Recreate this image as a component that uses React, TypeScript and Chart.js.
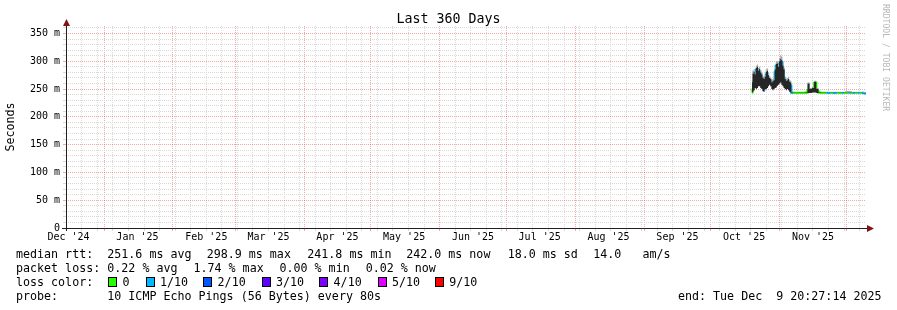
import React, { useEffect, useRef } from 'react';
import { Chart, registerables } from 'chart.js';

Chart.register(...registerables);

// ---------- text ----------
const chartTitle = 'Last 360 Days';
const yAxisTitle = 'Seconds';
const watermark = 'RRDTOOL / TOBI OETIKER';

// ---------- time axis ----------
const startTime = '2024-12-14T20:27:14';
const endTime = '2025-12-09T20:27:14';
const monthStarts = [
  '2024-12-01T00:00', '2025-01-01T00:00', '2025-02-01T00:00', '2025-03-01T00:00',
  '2025-04-01T00:00', '2025-05-01T00:00', '2025-06-01T00:00', '2025-07-01T00:00',
  '2025-08-01T00:00', '2025-09-01T00:00', '2025-10-01T00:00', '2025-11-01T00:00',
  '2025-12-01T00:00',
];
const monthLabels = [
  "Dec '24", "Jan '25", "Feb '25", "Mar '25", "Apr '25", "May '25", "Jun '25",
  "Jul '25", "Aug '25", "Sep '25", "Oct '25", "Nov '25", "Dec '25",
];

// ---------- value axis (ms) ----------
const yMax = 363.5;
const yMajorTicks = [0, 50, 100, 150, 200, 250, 300, 350];
const yTickLabels = ['0', '50 m', '100 m', '150 m', '200 m', '250 m', '300 m', '350 m'];

// ---------- data ----------
const sampleTimes = [
  '2025-10-19T12:00', '2025-10-20T00:00', '2025-10-20T12:00', '2025-10-21T00:00',
  '2025-10-21T12:00', '2025-10-22T00:00', '2025-10-22T12:00', '2025-10-23T00:00',
  '2025-10-23T12:00', '2025-10-24T00:00', '2025-10-24T12:00', '2025-10-25T00:00',
  '2025-10-25T12:00', '2025-10-26T00:00', '2025-10-26T12:00', '2025-10-27T00:00',
  '2025-10-27T12:00', '2025-10-28T00:00', '2025-10-28T12:00', '2025-10-29T00:00',
  '2025-10-29T12:00', '2025-10-30T00:00', '2025-10-30T12:00', '2025-10-31T00:00',
  '2025-10-31T12:00', '2025-11-01T00:00', '2025-11-01T12:00', '2025-11-02T00:00',
  '2025-11-02T12:00', '2025-11-03T00:00', '2025-11-03T12:00', '2025-11-04T00:00',
  '2025-11-04T12:00', '2025-11-05T00:00', '2025-11-05T12:00', '2025-11-06T00:00',
  '2025-11-06T12:00', '2025-11-07T00:00', '2025-11-08T00:00', '2025-11-09T00:00',
  '2025-11-10T00:00', '2025-11-11T00:00', '2025-11-12T00:00', '2025-11-13T00:00',
  '2025-11-14T00:00', '2025-11-15T00:00', '2025-11-16T00:00', '2025-11-17T00:00',
  '2025-11-18T00:00', '2025-11-19T00:00', '2025-11-20T00:00', '2025-11-21T00:00',
  '2025-11-22T00:00', '2025-11-23T00:00', '2025-11-24T00:00', '2025-11-25T00:00',
  '2025-11-26T00:00', '2025-11-27T00:00', '2025-11-28T00:00', '2025-11-29T00:00',
  '2025-11-30T00:00', '2025-12-01T00:00', '2025-12-02T00:00', '2025-12-03T00:00',
  '2025-12-04T00:00', '2025-12-05T00:00', '2025-12-06T00:00', '2025-12-07T00:00',
  '2025-12-08T00:00', '2025-12-09T00:00', '2025-12-09T20:00',
];
const rttLow = [
  243, 245, 248, 252, 250, 252, 255, 255, 252, 250, 246, 245,
  250, 250, 252, 255, 258, 255, 250, 248, 250, 252, 253, 256,
  258, 260, 262, 258, 255, 252, 250, 248, 250, 248, 245, 244,
  243, 242.8, 242.8, 243, 242.8, 242.8, 243, 243, 243, 243, 244, 244,
  243, 243, 242.8, 242.8, 242.8, 242.8, 242.8, 242.8, 242.8, 242.8, 242.8, 242.8,
  242.8, 242.8, 242.8, 242.8, 242.8, 242.8, 242.8, 242.8, 242.8, 242.3, 241.8,
];
const rttHigh = [
  262, 278, 281, 276, 288, 290, 283, 286, 280, 276, 270, 268,
  272, 281, 283, 275, 270, 268, 262, 264, 266, 285, 295, 296,
  290, 300, 304, 302, 292, 285, 268, 265, 266, 268, 263, 262,
  244, 243.3, 243.3, 243.4, 243.3, 243.3, 243.5, 244, 260, 250, 252, 263,
  250, 244, 243.3, 243.3, 243.3, 243.3, 243.3, 243.3, 243.3, 243.3, 243.3, 243.3,
  243.3, 243.3, 243.3, 243.3, 243.3, 243.3, 243.3, 243.3, 243.3, 242.8, 242.3,
];
const rttPeak = [
  266, 283, 285, 280, 292, 294, 287, 290, 284, 279, 273, 272,
  276, 285, 287, 279, 273, 271, 266, 268, 270, 289, 299, 300,
  294, 306, 311, 308, 297, 289, 272, 269, 270, 272, 267, 265,
  246, 244, 244, 244, 244, 244, 244.5, 245, 262, 252, 254, 265,
  252, 245, 244, 244, 244, 244, 244, 244, 244, 244, 244, 244,
  244, 246, 246.5, 246, 244, 244, 244, 244, 244, 243.5, 243,
];
const rttMedian = [
  244, 249, 262, 270, 284, 286, 280, 281, 276, 270, 255, 250,
  262, 276, 278, 268, 266, 264, 260, 258, 262, 280, 292, 290,
  285, 296, 299, 298, 285, 270, 262, 262, 263, 262, 258, 256,
  243.5, 243, 243, 243.2, 243, 243, 243.2, 243.5, 248, 246, 248, 261,
  246, 243.5, 243, 243, 243, 243, 243, 243, 243, 243, 243, 243,
  243, 243, 243, 243, 243, 243, 243, 243, 243, 242.5, 242,
];
const lossCount = [
  0, 0, 1, 1, 1, 1, 1, 1, 1, 1, 1, 1,
  1, 1, 1, 1, 1, 1, 1, 1, 1, 1, 1, 1,
  1, 1, 1, 1, 1, 1, 1, 1, 1, 1, 1, 1,
  1, 0, 0, 0, 0, 0, 0, 0, 0, 0, 0, 0,
  0, 0, 0, 0, 1, 1, 0, 1, 1, 0, 0, 1,
  0, 0, 1, 0, 1, 0, 1, 0, 1, 1, 1,
];

// ---------- legend ----------
const lossLabels = ['0', '1/10', '2/10', '3/10', '4/10', '5/10', '9/10'];
const lossLevels = [0, 1, 2, 3, 4, 5, 9];
const lossColors = ['#26ff00', '#00b8ff', '#0059ff', '#5e00ff', '#7e00ff', '#dd00ff', '#ff0000'];

const rttItems = ['median rtt:', '251.6 ms avg', '298.9 ms max', '241.8 ms min', '242.0 ms now', '18.0 ms sd', '14.0   am/s'];
const lossItems = ['packet loss:', '0.22 % avg', '1.74 % max', '0.00 % min', '0.02 % now'];
const probeItems = ['probe:', '10 ICMP Echo Pings (56 Bytes) every 80s'];
const endText = 'end: Tue Dec  9 20:27:14 2025';

// layout (pixels) for legend items
const rttX = [16, 107.3, 206.7, 307.3, 406.2, 507.7, 593.3];
const lossX = [16, 107.3, 193.5, 279.5, 365.7];
const boxX = [108.3, 145.7, 203.3, 261.7, 319.3, 377.7, 435];
const probeX = [16, 107.3];
const endX = 678;

const MONO = "'DejaVu Sans Mono', monospace";
const MAJOR = 'rgba(222,48,48,0.42)';
const MINOR = '#d9d9d9';
const NONE = 'rgba(0,0,0,0)';

function lossColor(n: number): string {
  let idx = 0;
  for (let i = 0; i < lossLevels.length; i++) if (lossLevels[i] <= n) idx = i;
  return lossColors[idx];
}

const axisPlugin = {
  id: 'rrdAxes',
  afterDatasetsDraw(chart: any) {
    const { ctx, chartArea } = chart;
    const { left, right, top, bottom } = chartArea;
    const by = Math.round(bottom) + 0.5;
    const lx = Math.round(left) + 0.5;
    ctx.save();
    ctx.strokeStyle = '#202020';
    ctx.lineWidth = 1;
    ctx.beginPath();
    ctx.moveTo(left - 4, by);
    ctx.lineTo(right + 2, by);
    ctx.moveTo(lx, bottom + 3);
    ctx.lineTo(lx, top - 1);
    ctx.stroke();
    ctx.fillStyle = '#7f1414';
    ctx.beginPath();
    ctx.moveTo(right + 1, by - 3.5);
    ctx.lineTo(right + 8, by);
    ctx.lineTo(right + 1, by + 3.5);
    ctx.closePath();
    ctx.fill();
    ctx.beginPath();
    ctx.moveTo(lx - 3.5, top);
    ctx.lineTo(lx, top - 7);
    ctx.lineTo(lx + 3.5, top);
    ctx.closePath();
    ctx.fill();
    ctx.restore();
  },
};

export default function App() {
  const ref = useRef<HTMLCanvasElement>(null);

  useEffect(() => {
    const canvas = ref.current;
    if (!canvas) return;
    const t0 = Date.parse(startTime);
    const t1 = Date.parse(endTime);
    const xs = sampleTimes.map((s) => Date.parse(s));

    const xInfo = new Map<number, { grid: string; label: string }>();
    const d = new Date(t0);
    d.setHours(0, 0, 0, 0);
    while (d.getDay() !== 0) d.setDate(d.getDate() + 1);
    for (; d.getTime() < t1; d.setDate(d.getDate() + 7)) xInfo.set(d.getTime(), { grid: MINOR, label: '' });
    monthStarts.forEach((m, i) => {
      const ms = Date.parse(m);
      if (ms > t0 && ms < t1) xInfo.set(ms, { grid: MAJOR, label: '' });
      const mid = new Date(ms);
      mid.setDate(16);
      const mv = mid.getTime();
      if (mv > t0 && mv < t1) {
        const k = xInfo.get(mv);
        xInfo.set(mv, { grid: k ? k.grid : NONE, label: monthLabels[i] });
      }
    });
    const xTickValues = Array.from(xInfo.keys()).sort((a, b) => a - b);

    const yTickValues: number[] = [];
    for (let v = 0; v <= 360; v += 10) yTickValues.push(v);
    const yGrid = (v: number) => (yMajorTicks.includes(v) ? MAJOR : MINOR);

    const pts = (arr: number[]) => xs.map((x, i) => ({ x, y: arr[i] }));

    const chart = new Chart(canvas, {
      type: 'line',
      data: {
        datasets: [
          { label: 'low', data: pts(rttLow), borderWidth: 0, pointRadius: 0, fill: false, stepped: 'middle', borderColor: NONE } as any,
          { label: 'high', data: pts(rttHigh), borderWidth: 0, pointRadius: 0, fill: '-1', stepped: 'middle', backgroundColor: '#262626', borderColor: NONE } as any,
          { label: 'peak', data: pts(rttPeak), borderWidth: 0, pointRadius: 0, fill: '-1', stepped: 'middle', backgroundColor: '#a4a4a4', borderColor: NONE } as any,
          {
            label: 'median',
            data: pts(rttMedian),
            borderWidth: 2.2,
            pointRadius: 0,
            fill: false,
            stepped: 'middle',
            borderColor: lossColors[0],
            segment: { borderColor: (c: any) => lossColor(lossCount[c.p0DataIndex]) },
          } as any,
        ],
      },
      options: {
        animation: false,
        responsive: false,
        events: [],
        layout: { padding: 0 },
        plugins: {
          legend: { display: false },
          tooltip: { enabled: false },
          title: {
            display: true,
            text: chartTitle,
            color: '#000',
            font: { family: MONO, size: 13.3, weight: 'normal', lineHeight: 1 },
            padding: { top: 12.4, bottom: 0.3 },
          },
        },
        scales: {
          x: {
            type: 'linear',
            min: t0,
            max: t1,
            afterBuildTicks: (s: any) => {
              s.ticks = xTickValues.map((value) => ({ value }));
            },
            afterFit: (s: any) => {
              s.height = 82;
            },
            ticks: {
              autoSkip: false,
              maxRotation: 0,
              minRotation: 0,
              padding: 0,
              color: '#000',
              font: { family: MONO, size: 10 },
              callback: (v: any) => (xInfo.get(v) ? xInfo.get(v)!.label : ''),
            },
            grid: {
              color: (c: any) => (xInfo.get(c.tick?.value)?.grid ?? NONE),
              tickColor: (c: any) => (xInfo.get(c.tick?.value)?.grid ?? NONE),
              tickLength: 3,
              lineWidth: 1,
            },
            border: { display: false, dash: [1, 1] },
          },
          y: {
            type: 'linear',
            min: 0,
            max: yMax,
            afterBuildTicks: (s: any) => {
              s.ticks = yTickValues.map((value) => ({ value }));
            },
            afterFit: (s: any) => {
              s.width = 66;
            },
            ticks: {
              autoSkip: false,
              padding: 3,
              color: '#000',
              font: { family: MONO, size: 10 },
              callback: (v: any) => {
                const i = yMajorTicks.indexOf(v);
                return i >= 0 ? yTickLabels[i] : '';
              },
            },
            grid: {
              color: (c: any) => yGrid(c.tick?.value),
              tickColor: (c: any) => yGrid(c.tick?.value),
              tickLength: 3,
              lineWidth: 1,
            },
            border: { display: false, dash: [1, 1] },
            title: {
              display: true,
              text: yAxisTitle,
              color: '#000',
              font: { family: MONO, size: 11.66, lineHeight: 1.2 },
              padding: { top: 4, bottom: 0 },
            },
          },
          yR: {
            type: 'linear',
            position: 'right',
            display: true,
            grid: { display: false },
            ticks: { display: false },
            border: { display: false },
            afterFit: (s: any) => {
              s.width = 31;
            },
          },
        },
      } as any,
      plugins: [axisPlugin],
    });
    return () => chart.destroy();
  }, []);

  const lineStyle = (top: number): React.CSSProperties => ({
    position: 'absolute',
    top,
    left: 0,
    height: 14,
    width: 897,
  });
  const item = (x: number): React.CSSProperties => ({
    position: 'absolute',
    left: x,
    top: 0,
    whiteSpace: 'pre',
    lineHeight: '14px',
  });

  return (
    <div
      style={{
        position: 'absolute',
        left: 0,
        top: 0,
        width: 897,
        height: 310,
        background: '#fff',
        overflow: 'hidden',
        fontFamily: MONO,
        fontSize: 11.66,
        color: '#000',
      }}
    >
      <canvas ref={ref} width={897} height={310} style={{ position: 'absolute', left: 0, top: 0, width: 897, height: 310 }} />
      <div
        style={{
          position: 'absolute',
          left: 881,
          top: 4,
          writingMode: 'vertical-rl',
          fontSize: 8.1,
          lineHeight: '10px',
          color: '#b8b8b8',
          whiteSpace: 'pre',
        }}
      >
        {watermark}
      </div>
      <div style={lineStyle(247)}>
        {rttItems.map((t, i) => (
          <span key={i} style={item(rttX[i])}>{t}</span>
        ))}
      </div>
      <div style={lineStyle(261)}>
        {lossItems.map((t, i) => (
          <span key={i} style={item(lossX[i])}>{t}</span>
        ))}
      </div>
      <div style={lineStyle(275)}>
        <span style={item(16)}>loss color:</span>
        {lossLabels.map((t, i) => (
          <React.Fragment key={i}>
            <span
              style={{
                position: 'absolute',
                left: boxX[i],
                top: 2,
                width: 7,
                height: 8,
                border: '1px solid #000',
                background: lossColors[i],
              }}
            />
            <span style={item(boxX[i] + 14.3)}>{t}</span>
          </React.Fragment>
        ))}
      </div>
      <div style={lineStyle(289)}>
        {probeItems.map((t, i) => (
          <span key={i} style={item(probeX[i])}>{t}</span>
        ))}
        <span style={item(endX)}>{endText}</span>
      </div>
    </div>
  );
}
